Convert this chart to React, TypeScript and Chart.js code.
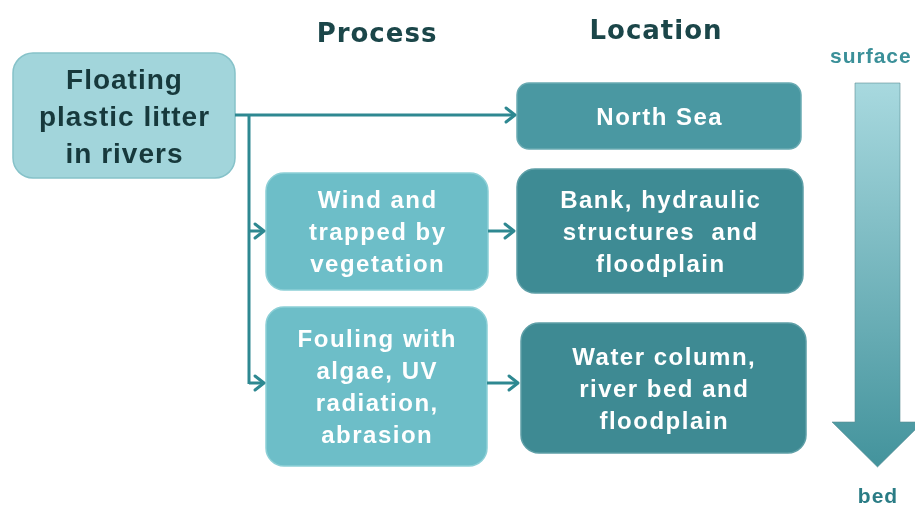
import React, { useEffect, useRef } from "react";
import { Chart, registerables } from "chart.js";

Chart.register(...registerables);

// ---- text content ----
const headers = ["Process", "Location"];
const sourceLines = ["Floating", "plastic litter", "in rivers"];
const processLines = [
  ["Wind and", "trapped by", "vegetation"],
  ["Fouling with", "algae, UV", "radiation,", "abrasion"],
];
const locationLines = [
  ["North Sea"],
  ["Bank, hydraulic", "structures  and", "floodplain"],
  ["Water column,", "river bed and", "floodplain"],
];
const depthLabels = ["surface", "bed"];

// ---- layout (diagram coordinates, in scale units) ----
const sourceBox = { x0: 13, y0: 53, x1: 235, y1: 178, r: 20 };
const processBoxes = [
  { x0: 266, y0: 173, x1: 488, y1: 290, r: 18 },
  { x0: 266, y0: 307, x1: 487, y1: 466, r: 18 },
];
const locationBoxes = [
  { x0: 517, y0: 83, x1: 801, y1: 149, r: 12 },
  { x0: 517, y0: 169, x1: 803, y1: 293, r: 18 },
  { x0: 521, y0: 323, x1: 806, y1: 453, r: 18 },
];
const headerPos = [
  { x: 377, y: 42 },
  { x: 656, y: 39 },
];
const connectors = [
  { pts: [{ x: 235, y: 115 }, { x: 515, y: 115 }], arrow: true },
  { pts: [{ x: 249, y: 115 }, { x: 249, y: 384 }], arrow: false },
  { pts: [{ x: 249, y: 231 }, { x: 264, y: 231 }], arrow: true },
  { pts: [{ x: 249, y: 383 }, { x: 264, y: 383 }], arrow: true },
  { pts: [{ x: 488, y: 231 }, { x: 514, y: 231 }], arrow: true },
  { pts: [{ x: 487, y: 383 }, { x: 518, y: 383 }], arrow: true },
];
const depthArrow = { sx0: 855, sx1: 900, top: 83, headY: 422, hx0: 832, hx1: 923, tip: 467 };

const LINE = "#2e8891";

type Box = { x0: number; y0: number; x1: number; y1: number; r: number };

export default function App() {
  const ref = useRef<HTMLCanvasElement | null>(null);

  useEffect(() => {
    document.body.style.margin = "0";
    const canvas = ref.current;
    if (!canvas) return;

    const diagram = {
      id: "diagram",
      beforeDatasetsDraw(chart: any) {
        const ctx = chart.ctx as CanvasRenderingContext2D;
        const X = (v: number) => chart.scales.x.getPixelForValue(v);
        const Y = (v: number) => chart.scales.y.getPixelForValue(v);

        const box = (b: Box, fill: string, stroke: string) => {
          ctx.save();
          ctx.beginPath();
          (ctx as any).roundRect(X(b.x0), Y(b.y0), X(b.x1) - X(b.x0), Y(b.y1) - Y(b.y0), b.r);
          ctx.fillStyle = fill;
          ctx.fill();
          ctx.lineWidth = 1.5;
          ctx.strokeStyle = stroke;
          ctx.stroke();
          ctx.restore();
        };

        box(sourceBox, "#a2d5db", "#86c2c9");
        processBoxes.forEach((b) => box(b, "#6dbec8", "#8ccfd6"));
        box(locationBoxes[0], "#4a98a2", "#6aaab2");
        box(locationBoxes[1], "#3e8b94", "#5e9fa7");
        box(locationBoxes[2], "#3e8a93", "#5e9fa7");

        // depth arrow
        const d = depthArrow;
        ctx.save();
        const g = ctx.createLinearGradient(0, Y(d.top), 0, Y(d.tip));
        g.addColorStop(0, "#a8d9df");
        g.addColorStop(1, "#43939c");
        ctx.beginPath();
        ctx.moveTo(X(d.sx0), Y(d.top));
        ctx.lineTo(X(d.sx1), Y(d.top));
        ctx.lineTo(X(d.sx1), Y(d.headY));
        ctx.lineTo(X(d.hx1), Y(d.headY));
        ctx.lineTo(X((d.sx0 + d.sx1) / 2), Y(d.tip));
        ctx.lineTo(X(d.hx0), Y(d.headY));
        ctx.lineTo(X(d.sx0), Y(d.headY));
        ctx.closePath();
        ctx.fillStyle = g;
        ctx.fill();
        ctx.lineWidth = 1;
        ctx.strokeStyle = "rgba(90,140,146,0.6)";
        ctx.stroke();
        ctx.restore();
      },
      afterDatasetsDraw(chart: any) {
        const ctx = chart.ctx as CanvasRenderingContext2D;
        const X = (v: number) => chart.scales.x.getPixelForValue(v);
        const Y = (v: number) => chart.scales.y.getPixelForValue(v);

        // arrowheads
        ctx.save();
        ctx.strokeStyle = LINE;
        ctx.lineWidth = 3;
        ctx.lineCap = "round";
        ctx.lineJoin = "round";
        connectors.forEach((c) => {
          if (!c.arrow) return;
          const p = c.pts[c.pts.length - 1];
          const px = X(p.x);
          const py = Y(p.y);
          ctx.beginPath();
          ctx.moveTo(px - 9, py - 7);
          ctx.lineTo(px, py);
          ctx.lineTo(px - 9, py + 7);
          ctx.stroke();
        });
        ctx.restore();

        const lines = (
          txt: string[],
          b: Box,
          size: number,
          lh: number,
          color: string,
          spacing: number,
          family = "'Liberation Sans', Arial, sans-serif"
        ) => {
          ctx.save();
          ctx.font = `bold ${size}px ${family}`;
          (ctx as any).letterSpacing = `${spacing}px`;
          ctx.fillStyle = color;
          ctx.textAlign = "center";
          ctx.textBaseline = "alphabetic";
          const cx = (X(b.x0) + X(b.x1)) / 2 + spacing / 2;
          const cy = (Y(b.y0) + Y(b.y1)) / 2 + size * 0.716 / 2;
          const n = txt.length;
          txt.forEach((t, i) => {
            ctx.fillText(t, cx, cy + (i - (n - 1) / 2) * lh);
          });
          ctx.restore();
        };

        lines(sourceLines, sourceBox, 28, 37, "#17393c", 1);
        processLines.forEach((t, i) => lines(t, processBoxes[i], 24, 32, "#ffffff", 1.5));
        locationLines.forEach((t, i) => lines(t, locationBoxes[i], 24, 32, "#ffffff", 1.5));

        // headers
        ctx.save();
        ctx.font = "bold 26px 'DejaVu Sans', sans-serif";
        (ctx as any).letterSpacing = "1px";
        ctx.fillStyle = "#1b4649";
        ctx.textAlign = "center";
        ctx.textBaseline = "alphabetic";
        headers.forEach((h, i) => ctx.fillText(h, X(headerPos[i].x), Y(headerPos[i].y)));
        ctx.restore();

        // depth labels
        ctx.save();
        ctx.font = "bold 21px 'Liberation Sans', Arial, sans-serif";
        (ctx as any).letterSpacing = "1px";
        ctx.fillStyle = "#3b9099";
        ctx.textAlign = "left";
        ctx.fillText(depthLabels[0], X(830), Y(63));
        ctx.fillStyle = "#2a7c85";
        ctx.textAlign = "center";
        ctx.fillText(depthLabels[1], X(878), Y(503));
        ctx.restore();
      },
    };

    const chart = new Chart(canvas, {
      type: "scatter",
      data: {
        datasets: connectors.map((c) => ({
          data: c.pts,
          showLine: true,
          borderColor: LINE,
          borderWidth: 3,
          pointRadius: 0,
          pointHoverRadius: 0,
          fill: false,
        })),
      },
      options: {
        animation: false,
        responsive: false,
        devicePixelRatio: 1,
        layout: { padding: 0 },
        events: [],
        plugins: { legend: { display: false }, tooltip: { enabled: false }, title: { display: false } },
        scales: {
          x: { type: "linear", min: 0, max: 915, display: false },
          y: { type: "linear", min: 0, max: 505, reverse: true, display: false },
        },
      },
      plugins: [diagram],
    });
    return () => chart.destroy();
  }, []);

  return (
    <div style={{ width: 915, height: 505, background: "#ffffff" }}>
      <canvas ref={ref} width={915} height={505} style={{ display: "block" }} />
    </div>
  );
}
